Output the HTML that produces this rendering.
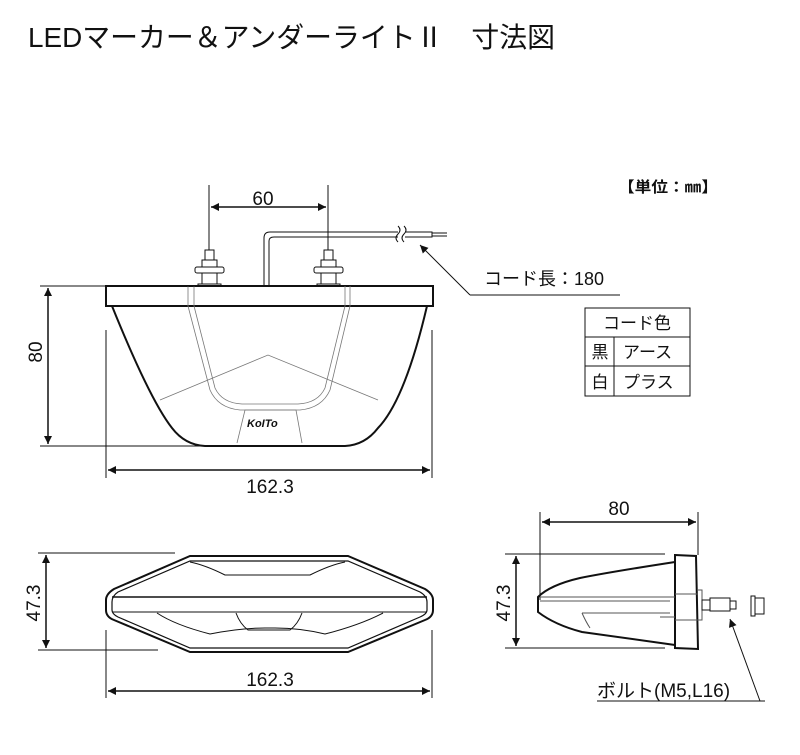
<!DOCTYPE html>
<html><head><meta charset="utf-8"><style>
body{margin:0;background:#fff;width:800px;height:750px;overflow:hidden;font-family:"Liberation Sans","Noto Sans CJK JP",sans-serif}
svg text{font-family:"Liberation Sans","Noto Sans CJK JP",sans-serif;fill:#111}
</style></head><body>
<svg width="800" height="750" viewBox="0 0 800 750" xmlns="http://www.w3.org/2000/svg">
<defs>
<marker id="a" viewBox="0 0 10 10" refX="10" refY="5" markerWidth="14" markerHeight="8" orient="auto-start-reverse" markerUnits="userSpaceOnUse"><path d="M0,0L10,5L0,10z" fill="#111"/></marker>
</defs>
<text x="28" y="47" font-size="28" textLength="527" lengthAdjust="spacingAndGlyphs">LEDマーカー＆アンダーライトⅡ　寸法図</text>
<text x="618" y="192" font-size="15" font-weight="bold" textLength="100" lengthAdjust="spacingAndGlyphs">【単位：㎜】</text>

<g stroke="#111" fill="none">
<line x1="209" y1="185" x2="209" y2="250" stroke-width="1"/>
<line x1="328" y1="185" x2="328" y2="250" stroke-width="1"/>
<line x1="211" y1="207" x2="326" y2="207" stroke-width="1.5" marker-start="url(#a)" marker-end="url(#a)"/>
<path d="M264,286 V238 Q264,232 270,232 H398 M269,286 V241 Q269,237 274,237 H398" stroke-width="1"/>
<path d="M398,226 q4,4 0,8 q-4,4 0,8 M404,226 q4,4 0,8 q-4,4 0,8" stroke-width="1"/>
<path d="M405,232 H432 V237 H405 M432,233 H447 M432,236 H447" stroke-width="1"/>
<line x1="470" y1="295" x2="620" y2="295" stroke-width="1"/>
<line x1="470" y1="295" x2="420" y2="245" stroke-width="1" marker-end="url(#a)"/>
<g stroke-width="1" fill="#fff">
<rect x="205" y="250" width="9" height="10"/><rect x="202" y="260" width="15" height="8"/><rect x="195" y="267" width="29" height="6" rx="2"/><rect x="202" y="273" width="15" height="11"/><rect x="198" y="284" width="23" height="2"/>
<rect x="324" y="250" width="9" height="10"/><rect x="321" y="260" width="15" height="8"/><rect x="314" y="267" width="29" height="6" rx="2"/><rect x="321" y="273" width="15" height="11"/><rect x="317" y="284" width="23" height="2"/>
</g>
<rect x="106" y="286" width="327" height="20" stroke-width="2"/>
<path d="M112,306 Q150,400 172,428 Q185,445 205,446 H345 Q365,445 378,428 Q405,400 427,306" stroke-width="2"/>
<path d="M188,306 L210,390 Q218,408 240,410 H300 Q322,408 330,390 L350,306 M194,306 L215,388 Q222,403 242,404 H298 Q318,403 325,388 L345,306 M188,286 V306 M194,286 V306 M345,286 V306 M350,286 V306" stroke-width="0.8" stroke="#777"/>
<path d="M160,400 L268,355 L378,400" stroke-width="0.8" stroke="#777"/>
<path d="M237,443 L245,410 H296 L302,443" stroke-width="0.8" stroke="#777"/>
<line x1="40" y1="286" x2="200" y2="286" stroke-width="1"/>
<line x1="40" y1="446" x2="200" y2="446" stroke-width="1"/>
<line x1="48" y1="288" x2="48" y2="444" stroke-width="1.5" marker-start="url(#a)" marker-end="url(#a)"/>
<line x1="106" y1="330" x2="106" y2="478" stroke-width="1"/>
<line x1="432" y1="330" x2="432" y2="478" stroke-width="1"/>
<line x1="108" y1="470" x2="430" y2="470" stroke-width="1.5" marker-start="url(#a)" marker-end="url(#a)"/>
</g>
<text x="247" y="427" font-size="11" font-style="italic" font-weight="bold" fill="#333">KoITo</text>
<text x="263" y="205" font-size="19" text-anchor="middle">60</text>
<text x="484" y="285" font-size="18">コード長：180</text>
<text transform="translate(42,352) rotate(-90)" font-size="19" text-anchor="middle">80</text>
<text x="270" y="493" font-size="19" text-anchor="middle">162.3</text>

<g stroke="#111" fill="none" stroke-width="1">
<rect x="585" y="308" width="105" height="88"/>
<line x1="585" y1="337" x2="690" y2="337"/><line x1="585" y1="366" x2="690" y2="366"/>
<line x1="614" y1="337" x2="614" y2="396"/>
</g>
<text x="637" y="329" font-size="17" text-anchor="middle">コード色</text>
<text x="600" y="358" font-size="17" text-anchor="middle">黒</text>
<text x="623" y="358" font-size="17">アース</text>
<text x="600" y="388" font-size="17" text-anchor="middle">白</text>
<text x="623" y="388" font-size="17">プラス</text>

<g stroke="#111" fill="none">
<path d="M190,556 L348,556 L425,589 Q433,594 433,600 V610 Q433,617 425,620 L348,652 L190,652 L114,620 Q106,617 106,610 V600 Q106,594 114,589 Z" stroke-width="2"/>
<path d="M190,561 L348,561 L420,592 Q427,596 427,602 V610 Q427,614 420,617 L348,648 L190,648 L118,617 Q112,614 112,610 V602 Q112,596 118,592 Z" stroke-width="1.2"/>
<line x1="112" y1="597" x2="427" y2="597" stroke-width="1.5"/>
<line x1="112" y1="612" x2="427" y2="612" stroke-width="1"/>
<path d="M190,562 Q205,565 225,575 H310 Q330,565 345,562" stroke-width="1"/>
<path d="M157,613 Q175,625 210,634 Q240,628 265,628 H275 Q300,628 325,634 Q360,625 383,613" stroke-width="1"/>
<path d="M236,613 Q240,624 248,630 H290 Q298,624 302,613" stroke-width="1"/>
<line x1="38" y1="553" x2="175" y2="553" stroke-width="1"/>
<line x1="38" y1="650" x2="158" y2="650" stroke-width="1"/>
<line x1="46" y1="555" x2="46" y2="648" stroke-width="1.5" marker-start="url(#a)" marker-end="url(#a)"/>
<line x1="106" y1="630" x2="106" y2="698" stroke-width="1"/>
<line x1="432" y1="630" x2="432" y2="698" stroke-width="1"/>
<line x1="108" y1="691" x2="430" y2="691" stroke-width="1.5" marker-start="url(#a)" marker-end="url(#a)"/>
</g>
<text transform="translate(40,603) rotate(-90)" font-size="19" text-anchor="middle">47.3</text>
<text x="270" y="686" font-size="19" text-anchor="middle">162.3</text>

<g stroke="#111" fill="none">
<line x1="540" y1="512" x2="540" y2="600" stroke-width="1"/>
<line x1="698" y1="512" x2="698" y2="555" stroke-width="1"/>
<line x1="542" y1="522" x2="696" y2="522" stroke-width="1.5" marker-start="url(#a)" marker-end="url(#a)"/>
<line x1="505" y1="554" x2="665" y2="554" stroke-width="1"/>
<line x1="505" y1="648" x2="665" y2="648" stroke-width="1"/>
<line x1="516" y1="556" x2="516" y2="646" stroke-width="1.5" marker-start="url(#a)" marker-end="url(#a)"/>
<path d="M675,562 Q610,572 580,578 Q550,585 538,597 V612 Q555,625 582,632 L675,645" stroke-width="2"/>
<path d="M675,555 L696,556 L698,649 L675,648 Z" stroke-width="2"/>
<path d="M540,597 H675 M540,601 H670 M582,613 H670 M582,613 Q586,622 590,628 M660,617 H675 M675,594 H698 M675,620 H698 M698,590 H702 V620 H698" stroke-width="1" stroke="#555"/>
<rect x="702" y="600" width="8" height="10" stroke-width="1"/>
<rect x="710" y="598" width="20" height="13" stroke-width="1"/>
<rect x="730" y="601" width="6" height="8" stroke-width="1"/>
<rect x="751" y="596" width="4" height="20" stroke-width="1"/>
<rect x="755" y="598" width="9" height="16" stroke-width="1"/>
<line x1="765" y1="701" x2="597" y2="701" stroke-width="1"/>
<line x1="760" y1="701" x2="730" y2="619" stroke-width="1" marker-end="url(#a)"/>
</g>
<text transform="translate(510,603) rotate(-90)" font-size="19" text-anchor="middle">47.3</text>
<text x="619" y="515" font-size="19" text-anchor="middle">80</text>
<text x="597" y="697" font-size="19">ボルト(M5,L16)</text>
</svg>
</body></html>
